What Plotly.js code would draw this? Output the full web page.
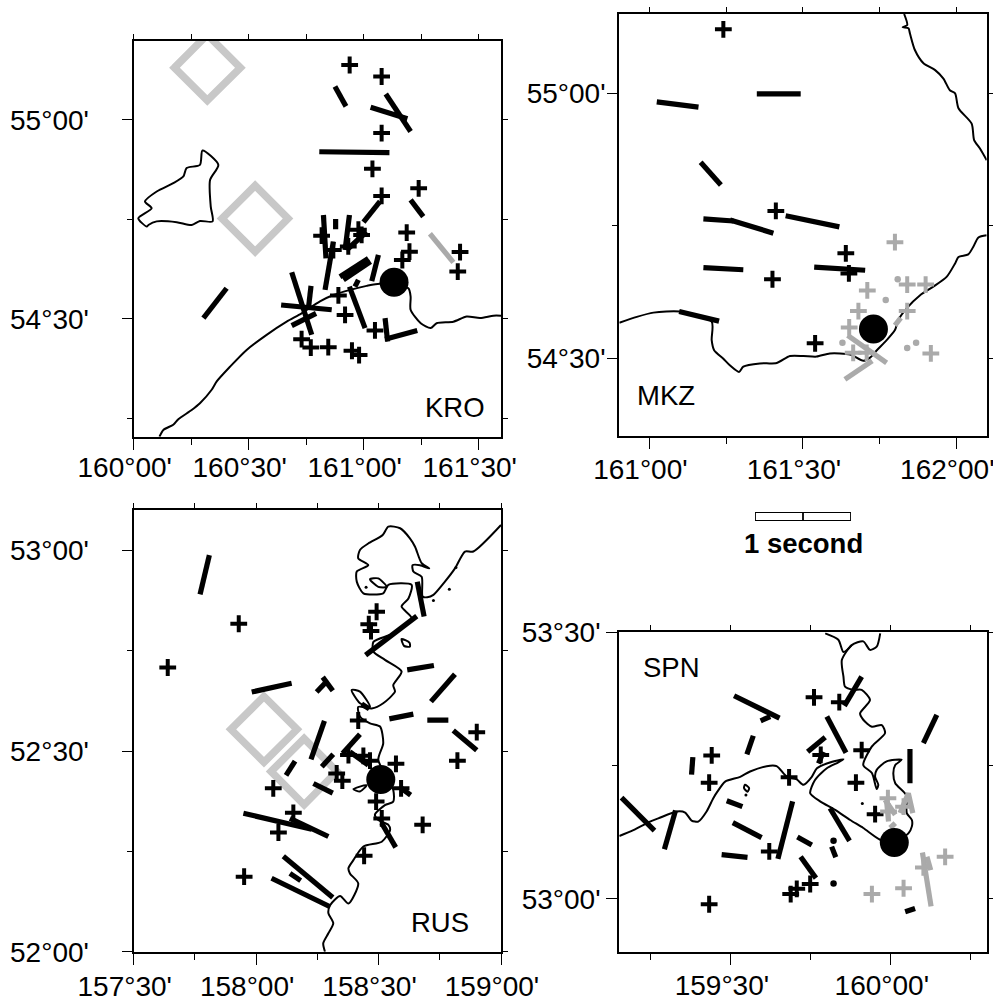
<!DOCTYPE html>
<html><head><meta charset="utf-8">
<script src="https://cdn.plot.ly/plotly-3.0.1.min.js"></script>
<style>html,body{margin:0;padding:0;background:#fff}</style></head>
<body><div id="g" style="width:993px;height:998px"></div>
<script>
// ---------- KRO ----------
const kroCrossLon=[160.939,161.078,161.078,161.038,161.078,161.239,160.817,160.977,160.991,160.933,160.868,161.187,161.199,161.168,161.419,161.409,160.890,160.919,161.049,160.730,160.770,160.846,160.949,160.980];
const kroCrossLat=[55.138,55.109,54.967,54.877,54.809,54.828,54.709,54.724,54.711,54.682,54.673,54.717,54.669,54.648,54.668,54.619,54.559,54.510,54.471,54.449,54.428,54.429,54.420,54.409];
const kroStickLon=[160.875,160.923,null,161.096,161.204,null,161.030,161.190,null,160.807,161.112,null,160.999,161.071,null,161.204,161.259,null,160.825,160.836,null,160.878,160.878,null,160.938,160.919,null,161.013,160.926,null,160.868,160.832,null,160.897,161.020,null,160.912,161.030,null,161.064,161.035,null,160.977,160.962,null,160.938,161.006,null,160.687,160.774,null,160.771,160.759,null,160.641,160.861,null,160.687,160.793,null,161.093,161.104,null,161.093,161.233,null,160.303,160.404];
const kroStickLat=[55.084,55.034,null,55.065,54.971,null,55.032,55.003,null,54.920,54.918,null,54.743,54.795,null,54.799,54.757,null,54.761,54.652,null,54.751,54.725,null,54.761,54.673,null,54.719,54.673,null,54.694,54.573,null,54.606,54.652,null,54.598,54.644,null,54.661,54.595,null,54.598,54.581,null,54.581,54.477,null,54.617,54.460,null,54.583,54.523,null,54.535,54.523,null,54.483,54.514,null,54.502,54.443,null,54.449,54.471,null,54.502,54.577];
const kroGrayStickLon=[161.288,161.390];
const kroGrayStickLat=[54.714,54.642];
const kroDiamondLon=[160.177,160.320,160.464,160.320,160.177,160.320,null,160.384,160.528,160.671,160.528,160.384,160.528];
const kroDiamondLat=[55.131,55.214,55.131,55.049,55.131,55.214,null,54.752,54.835,54.752,54.669,54.752,54.835];
const kroStationLon=[161.132];
const kroStationLat=[54.592];
const kroCoastLon=[160.112,160.129,160.172,160.194,160.252,160.288,160.339,160.361,160.419,160.491,160.578,160.665,160.730,160.810,160.868,160.941,161.013,161.071,161.194,161.204,161.204,161.248,161.291,161.317,161.390,161.448,161.506,161.564,161.597,null,160.299,160.368,160.332,160.335,160.343,160.288,160.252,160.187,160.100,160.064,160.057,160.020,160.078,160.049,160.100,160.172,160.216,160.230,160.288,160.299];
const kroCoastLat=[54.204,54.221,54.234,54.248,54.271,54.288,54.322,54.343,54.380,54.422,54.460,54.493,54.514,54.544,54.560,54.573,54.583,54.588,54.577,54.556,54.523,54.489,54.477,54.489,54.493,54.506,54.502,54.508,54.508,null,54.923,54.887,54.849,54.782,54.745,54.746,54.736,54.743,54.745,54.736,54.732,54.753,54.778,54.795,54.820,54.841,54.858,54.879,54.887,54.923];
// ---------- MKZ ----------
const mkzCrossLon=[161.241,161.412,161.640,161.650,161.401,161.540];
const mkzCrossLat=[55.121,54.778,54.698,54.660,54.649,54.528];
const mkzGrayCrossLon=[161.800,161.710,161.840,161.900,161.681,161.840,161.651,161.917,161.664,161.708];
const mkzGrayCrossLat=[54.719,54.628,54.639,54.639,54.589,54.589,54.558,54.509,54.510,54.510];
const mkzGrayDotLon=[161.809,161.770,161.629,161.840,161.869];
const mkzGrayDotLat=[54.649,54.610,54.529,54.519,54.529];
const mkzGrayStickLon=[161.800,161.819,null,161.646,161.773,null,161.637,161.726];
const mkzGrayStickLat=[54.562,54.576,null,54.543,54.491,null,54.460,54.495];
const mkzStickLon=[161.024,161.160,null,161.350,161.493,null,161.167,161.233,null,161.176,161.274,null,161.263,161.404,null,161.444,161.619,null,161.176,161.306,null,161.537,161.703,null,161.097,161.227];
const mkzStickLat=[54.984,54.974,null,54.999,54.999,null,54.870,54.827,null,54.763,54.759,null,54.761,54.736,null,54.769,54.748,null,54.671,54.667,null,54.672,54.666,null,54.588,54.570];
const mkzStationLon=[161.730];
const mkzStationLat=[54.555];
const mkzCoastLon=[160.902,160.959,161.013,161.100,161.203,161.203,161.211,161.241,161.263,161.292,161.306,161.360,161.415,161.458,161.502,161.545,161.588,161.654,161.697,161.719,161.741,161.773,161.800,161.811,161.838,161.882,161.925,161.969,161.996,162.007,162.039,162.055,162.072,162.099,null,161.830,161.840,161.825,161.844,161.849,161.865,161.893,161.931,161.958,161.979,161.996,162.007,162.050,162.058,162.077,162.099];
const mkzCoastLat=[54.567,54.578,54.586,54.588,54.569,54.534,54.515,54.499,54.486,54.474,54.484,54.490,54.491,54.504,54.504,54.503,54.509,54.507,54.495,54.501,54.515,54.534,54.553,54.572,54.594,54.619,54.635,54.654,54.679,54.691,54.696,54.710,54.728,54.732,null,55.150,55.129,55.125,55.123,55.113,55.082,55.057,55.044,55.028,55.006,55.000,54.972,54.943,54.912,54.896,54.874];
// ---------- RUS ----------
const rusCrossLon=[157.929,157.639,158.492,158.460,158.469,158.417,158.901,158.822,158.571,158.377,158.438,158.465,158.329,158.352,158.070,158.592,158.490,158.152,158.091,158.680,158.513,158.441,157.951];
const rusCrossLat=[52.817,52.708,52.847,52.816,52.799,52.576,52.547,52.476,52.468,52.490,52.488,52.476,52.444,52.426,52.407,52.407,52.374,52.346,52.297,52.316,52.332,52.239,52.187];
const rusStickLon=[157.809,157.771,null,158.658,158.686,null,158.656,158.447,null,158.617,158.726,null,158.812,158.714,null,157.982,158.145,null,158.272,158.313,null,158.281,158.247,null,158.431,158.462,null,158.544,158.642,null,158.699,158.785,null,158.805,158.901,null,158.279,158.224,null,158.424,158.353,null,158.315,158.268,null,158.159,158.122,null,158.234,158.313,null,157.948,158.227,null,158.138,158.295,null,158.513,158.570,null,158.111,158.313,null,158.138,158.182,null,158.063,158.302,null,158.383,158.458,null,158.594,158.631];
const rusStickLat=[52.988,52.890,null,52.922,52.835,null,52.836,52.739,null,52.702,52.713,null,52.691,52.623,null,52.647,52.669,null,52.684,52.650,null,52.669,52.647,null,52.617,52.605,null,52.580,52.592,null,52.577,52.577,null,52.551,52.502,null,52.575,52.479,null,52.542,52.494,null,52.492,52.461,null,52.475,52.439,null,52.419,52.395,null,52.345,52.305,null,52.332,52.287,null,52.320,52.260,null,52.238,52.135,null,52.195,52.177,null,52.183,52.112,null,52.498,52.465,null,52.407,52.390];
const rusDiamondLon=[157.897,158.032,158.167,158.032,157.897,158.032,null,158.061,158.196,158.330,158.196,158.061,158.196];
const rusDiamondLat=[52.554,52.636,52.554,52.472,52.554,52.636,null,52.449,52.531,52.449,52.366,52.449,52.531];
const rusStationLon=[158.509];
const rusStationLat=[52.429];
const rusCoastLon=[159.000,158.887,158.853,158.812,158.771,158.724,158.699,158.680,158.676,158.642,158.639,158.669,158.707,158.676,158.649,158.628,158.588,158.540,158.517,158.458,158.424,158.417,158.458,158.411,158.411,158.438,158.519,158.540,158.635,158.622,158.594,158.635,158.560,158.479,158.479,158.526,158.594,158.560,158.567,158.519,158.472,158.417,158.424,158.465,158.506,158.519,158.499,158.560,158.560,158.526,158.485,158.499,158.540,158.547,158.513,158.438,158.397,158.377,158.383,158.417,158.377,158.343,158.302,158.295,158.315,158.295,158.274,158.281,null,158.465,158.499,158.533,158.499,158.465,null,158.390,158.424,158.465,158.424,158.390,null,158.594,158.626,158.628,158.604,158.594,null,158.397,158.451,158.424,158.397];
const rusCoastLat=[53.063,52.997,52.997,52.955,52.922,52.889,52.883,52.885,52.934,52.947,52.963,52.963,52.955,52.968,53.009,53.030,53.055,53.059,53.038,53.017,53.001,52.980,52.963,52.947,52.922,52.893,52.893,52.914,52.914,52.880,52.860,52.831,52.793,52.772,52.748,52.727,52.698,52.664,52.648,52.619,52.606,52.610,52.586,52.569,52.561,52.519,52.478,52.403,52.374,52.365,52.341,52.328,52.316,52.303,52.274,52.262,52.228,52.208,52.195,52.170,52.120,52.139,52.116,52.096,52.071,52.046,52.021,52.000,null,52.928,52.930,52.909,52.909,52.928,null,52.652,52.648,52.610,52.619,52.652,null,52.779,52.770,52.760,52.762,52.779,null,52.405,52.415,52.399,52.405];
const rusCoastDotLon=[158.724,158.789,158.816,158.449];
const rusCoastDotLat=[52.875,52.903,52.957,52.908];
// ---------- SPN ----------
const spnCrossLon=[159.760,159.839,159.440,159.432,159.781,159.909,159.682,159.891,159.951,159.620,159.748,159.706,159.687,159.432];
const spnCrossLat=[53.378,53.369,53.269,53.218,53.270,53.279,53.228,53.218,53.159,53.089,53.028,53.019,53.009,52.990];
const spnGrayCrossLon=[159.991,159.993,160.040,160.170,160.102,160.040,159.941];
const spnGrayCrossLat=[53.189,53.164,53.173,53.079,53.059,53.020,53.009];
const spnStickLon=[159.510,159.652,null,159.593,159.623,null,159.570,159.550,null,159.381,159.377,null,159.795,159.740,null,159.800,159.860,null,159.909,159.855,null,159.789,159.774,null,160.144,160.102,null,160.060,160.060,null,159.487,159.536,null,159.158,159.261,null,159.327,159.292,null,159.506,159.596,null,159.693,159.647,null,159.810,159.871,null,159.471,159.552,null,159.708,159.753,null,159.718,159.766,null,159.815,159.828,null,160.045,160.076];
const spnStickLat=[53.381,53.339,null,53.334,53.342,null,53.306,53.271,null,53.266,53.233,null,53.303,53.276,null,53.342,53.274,null,53.417,53.362,null,53.276,53.254,null,53.345,53.292,null,53.281,53.217,null,53.184,53.173,null,53.190,53.128,null,53.166,53.093,null,53.143,53.115,null,53.183,53.075,null,53.170,53.109,null,53.083,53.078,null,53.116,53.101,null,53.079,53.039,null,53.098,53.078,null,52.976,52.982];
const spnDotLon=[159.821,159.821];
const spnDotLat=[53.109,53.029];
const spnGrayStickLon=[160.099,160.126,null,160.113,160.125,null,159.987,159.993,null,159.982,160.014,null,160.029,160.055,160.069,null,160.014,159.998];
const spnGrayStickLat=[53.087,52.986,null,53.079,53.054,null,53.183,53.145,null,53.186,53.158,null,53.161,53.198,53.161,null,53.142,53.133];
const spnStationLon=[160.011];
const spnStationLat=[53.106];
const spnCoastLon=[159.151,159.195,159.247,159.273,159.331,159.357,159.377,159.398,159.424,159.445,159.461,159.482,159.529,159.560,159.612,159.643,159.675,159.706,159.727,159.753,159.769,159.800,159.852,159.836,159.800,159.763,159.748,159.779,159.826,159.873,159.914,159.967,160.011,160.055,160.066,160.066,160.050,160.048,160.014,160.008,160.014,160.034,159.987,159.956,159.951,159.961,159.956,159.941,159.914,159.941,159.982,159.972,159.941,159.914,159.904,159.935,159.909,159.883,159.857,159.852,159.847,159.878,159.914,159.935,159.956,159.967,null,159.795,159.836,159.852,159.878,null,159.544,159.557,159.552,159.541,159.544];
const spnCoastLat=[53.118,53.129,53.145,53.151,53.164,53.162,53.147,53.145,53.164,53.189,53.204,53.220,53.229,53.239,53.249,53.249,53.229,53.224,53.214,53.229,53.245,53.254,53.262,53.256,53.245,53.223,53.198,53.183,53.167,53.148,53.133,53.111,53.106,53.123,53.136,53.148,53.161,53.195,53.217,53.236,53.251,53.261,53.258,53.242,53.229,53.214,53.206,53.236,53.251,53.286,53.311,53.326,53.323,53.336,53.348,53.373,53.392,53.392,53.398,53.417,53.448,53.476,53.483,53.467,53.473,53.498,null,53.498,53.486,53.463,53.476,null,53.214,53.208,53.201,53.208,53.214];
const spnCoastDotLon=[159.547,159.911];
const spnCoastDotLat=[53.195,53.179];
// ---------- scale bar (seconds) ----------
const scaleSeconds=[0,1,1,0,0,null,0.5,0.5];
const scaleBox=[0,0,1,1,0,null,0,1];
// ---------- tick labels ----------
const kroXMajor=[160,160.5,161,161.5], kroXText=["160°00'","160°30'","161°00'","161°30'"], kroXMinor=[160.25,160.75,161.25];
const kroYMajor=[54.5,55], kroYText=["54°30'","55°00'"], kroYMinor=[54.25,54.75];
const mkzXMajor=[161,161.5,162], mkzXText=["161°00'","161°30'","162°00'"], mkzXMinor=[161.25,161.75];
const mkzYMajor=[54.5,55], mkzYText=["54°30'","55°00'"], mkzYMinor=[54.75];
const rusXMajor=[157.5,158,158.5,159], rusXText=["157°30'","158°00'","158°30'","159°00'"], rusXMinor=[157.75,158.25,158.75];
const rusYMajor=[52,52.5,53], rusYText=["52°00'","52°30'","53°00'"], rusYMinor=[52.25,52.75];
const spnXMajor=[159.5,160], spnXText=["159°30'","160°00'"], spnXMinor=[159.25,159.75,160.25];
const spnYMajor=[53,53.5], spnYText=["53°00'","53°30'"], spnYMinor=[53.25];

const W=993,H=998,FONT='"Liberation Sans", Arial, sans-serif';
const BLACK='#000',GRAY='#aaaaaa',LIGHT='#c8c8c8';
const layout={width:W,height:H,autosize:false,margin:{l:0,r:0,t:0,b:0},paper_bgcolor:'#fff',plot_bgcolor:'rgba(0,0,0,0)',showlegend:false,hovermode:false,annotations:[]};
const traces=[];

function panel(i,box,xr,yr,xM,xT,xm,yM,yT,ym,yStandoff,xStandoff,yLen){
  const a=2*i-1,b=2*i;
  const dx=[box[0]/W,box[1]/W],dy=[1-box[3]/H,1-box[2]/H];
  const base={type:'linear',autorange:false,zeroline:false,showgrid:false,fixedrange:true,tickcolor:BLACK,tickwidth:1,color:BLACK};
  layout['xaxis'+a]={...base,range:xr,domain:dx,anchor:'y'+a,side:'bottom',tickmode:'array',tickvals:xM,ticktext:xT,ticks:'outside',ticklen:11,
    tickfont:{family:FONT,size:28,color:BLACK},tickangle:0,ticklabelshift:-9,ticklabelstandoff:xStandoff,ticklabeloverflow:'allow',showline:true,linecolor:BLACK,linewidth:2.2,mirror:true,layer:'above traces',
    minor:{tickmode:'array',tickvals:xm,ticks:'outside',ticklen:6,tickcolor:BLACK,tickwidth:1,showgrid:false}};
  layout['yaxis'+a]={...base,range:yr,domain:dy,anchor:'x'+a,side:'left',tickmode:'array',tickvals:yM,ticktext:yT,ticks:'outside',ticklen:yLen,
    tickfont:{family:FONT,size:28,color:BLACK},tickangle:0,ticklabelstandoff:yStandoff,ticklabeloverflow:'allow',showline:true,linecolor:BLACK,linewidth:2.2,mirror:true,layer:'above traces',
    minor:{tickmode:'array',tickvals:ym,ticks:'outside',ticklen:5,tickcolor:BLACK,tickwidth:1,showgrid:false}};
  layout['xaxis'+b]={...base,range:xr,domain:dx,anchor:'y'+b,overlaying:'x'+a,side:'top',tickmode:'array',tickvals:xM.concat(xm),ticks:'outside',ticklen:6,showticklabels:false,showline:false};
  layout['yaxis'+b]={...base,range:yr,domain:dy,anchor:'x'+b,overlaying:'y'+a,side:'right',tickmode:'array',tickvals:yM.concat(ym),ticks:'outside',ticklen:6,showticklabels:false,showline:false};
  traces.push({x:[null],y:[null],xaxis:'x'+b,yaxis:'y'+b,mode:'lines',type:'scatter',hoverinfo:'skip'});
}
function add(i,x,y,kind){
  const ax={xaxis:'x'+(2*i-1),yaxis:'y'+(2*i-1),type:'scatter',hoverinfo:'skip',x,y};
  if(kind==='coast') traces.push({...ax,mode:'lines',connectgaps:false,line:{color:BLACK,width:2,shape:'spline',smoothing:0.7}});
  if(kind==='diamond') traces.push({...ax,mode:'lines',connectgaps:false,line:{color:LIGHT,width:7.5}});
  if(kind==='stick') traces.push({...ax,mode:'lines',connectgaps:false,line:{color:BLACK,width:5.2}});
  if(kind==='gstick') traces.push({...ax,mode:'lines',connectgaps:false,line:{color:GRAY,width:5.2}});
  if(kind==='cross') traces.push({...ax,mode:'markers',marker:{symbol:'cross-thin',size:12,line:{color:BLACK,width:4}}});
  if(kind==='gcross') traces.push({...ax,mode:'markers',marker:{symbol:'cross-thin',size:12,line:{color:GRAY,width:4}}});
  if(kind==='dot') traces.push({...ax,mode:'markers',marker:{symbol:'circle',size:6.5,color:BLACK}});
  if(kind==='cdot') traces.push({...ax,mode:'markers',marker:{symbol:'circle',size:3,color:BLACK}});
  if(kind==='gdot') traces.push({...ax,mode:'markers',marker:{symbol:'circle',size:6.5,color:GRAY}});
  if(kind==='station') traces.push({...ax,mode:'markers',marker:{symbol:'circle',size:29,color:BLACK}});
}
function label(t,px,py,bold){
  layout.annotations.push({text:bold?'<b>'+t+'</b>':t,xref:'paper',yref:'paper',x:px/W,y:1-py/H,xanchor:'center',yanchor:'middle',showarrow:false,font:{family:FONT,size:27.5,color:BLACK}});
}

panel(1,[133.7,501,40.7,436.7],[160,161.597],[54.204,55.199],kroXMajor,kroXText,kroXMinor,kroYMajor,kroYText,kroYMinor,27,-7,10);
add(1,kroCoastLon,kroCoastLat,'coast');add(1,kroDiamondLon,kroDiamondLat,'diamond');add(1,kroGrayStickLon,kroGrayStickLat,'gstick');add(1,kroStickLon,kroStickLat,'stick');add(1,kroCrossLon,kroCrossLat,'cross');add(1,kroStationLon,kroStationLat,'station');
label('KRO',455,408);

panel(2,[619.3,986.7,14,436],[160.902,162.099],[54.353,55.150],mkzXMajor,mkzXText,mkzXMinor,mkzYMajor,mkzYText,mkzYMinor,-4,-4,10);
add(2,mkzCoastLon,mkzCoastLat,'coast');add(2,mkzStickLon,mkzStickLat,'stick');add(2,mkzCrossLon,mkzCrossLat,'cross');add(2,mkzGrayStickLon,mkzGrayStickLat,'gstick');add(2,mkzGrayCrossLon,mkzGrayCrossLat,'gcross');add(2,mkzGrayDotLon,mkzGrayDotLat,'gdot');add(2,mkzStationLon,mkzStationLat,'station');
label('MKZ',665.7,395);

panel(3,[133.7,501,510.3,951.7],[157.5,159],[52,53.0997],rusXMajor,rusXText,rusXMinor,rusYMajor,rusYText,rusYMinor,27,-3,10);
add(3,rusCoastLon,rusCoastLat,'coast');add(3,rusCoastDotLon,rusCoastDotLat,'cdot');add(3,rusDiamondLon,rusDiamondLat,'diamond');add(3,rusStickLon,rusStickLat,'stick');add(3,rusCrossLon,rusCrossLat,'cross');add(3,rusStationLon,rusStationLat,'station');
label('RUS',440,922);

panel(4,[619.3,986.7,632.3,951.7],[159.151,160.300],[52.901,53.5],spnXMajor,spnXText,spnXMinor,spnYMajor,spnYText,spnYMinor,0,-4,11);
add(4,spnCoastLon,spnCoastLat,'coast');add(4,spnCoastDotLon,spnCoastDotLat,'cdot');add(4,spnStickLon,spnStickLat,'stick');add(4,spnDotLon,spnDotLat,'dot');add(4,spnCrossLon,spnCrossLat,'cross');add(4,spnGrayStickLon,spnGrayStickLat,'gstick');add(4,spnGrayCrossLon,spnGrayCrossLat,'gcross');add(4,spnStationLon,spnStationLat,'station');
label('SPN',671,667.7);

// scale bar on its own hidden axes: the full width is one second
layout.xaxis9={domain:[755/W,851/W],range:[0,1],anchor:'y9',visible:false,fixedrange:true};
layout.yaxis9={domain:[1-521/H,1-512/H],range:[0,1],anchor:'x9',visible:false,fixedrange:true};
traces.push({x:scaleSeconds,y:scaleBox,xaxis:'x9',yaxis:'y9',type:'scatter',mode:'lines',cliponaxis:false,hoverinfo:'skip',line:{color:BLACK,width:1.8}});
label('1 second',803,543,true);

Plotly.newPlot('g',traces,layout,{displayModeBar:false,staticPlot:true,responsive:false});
</script></body></html>
